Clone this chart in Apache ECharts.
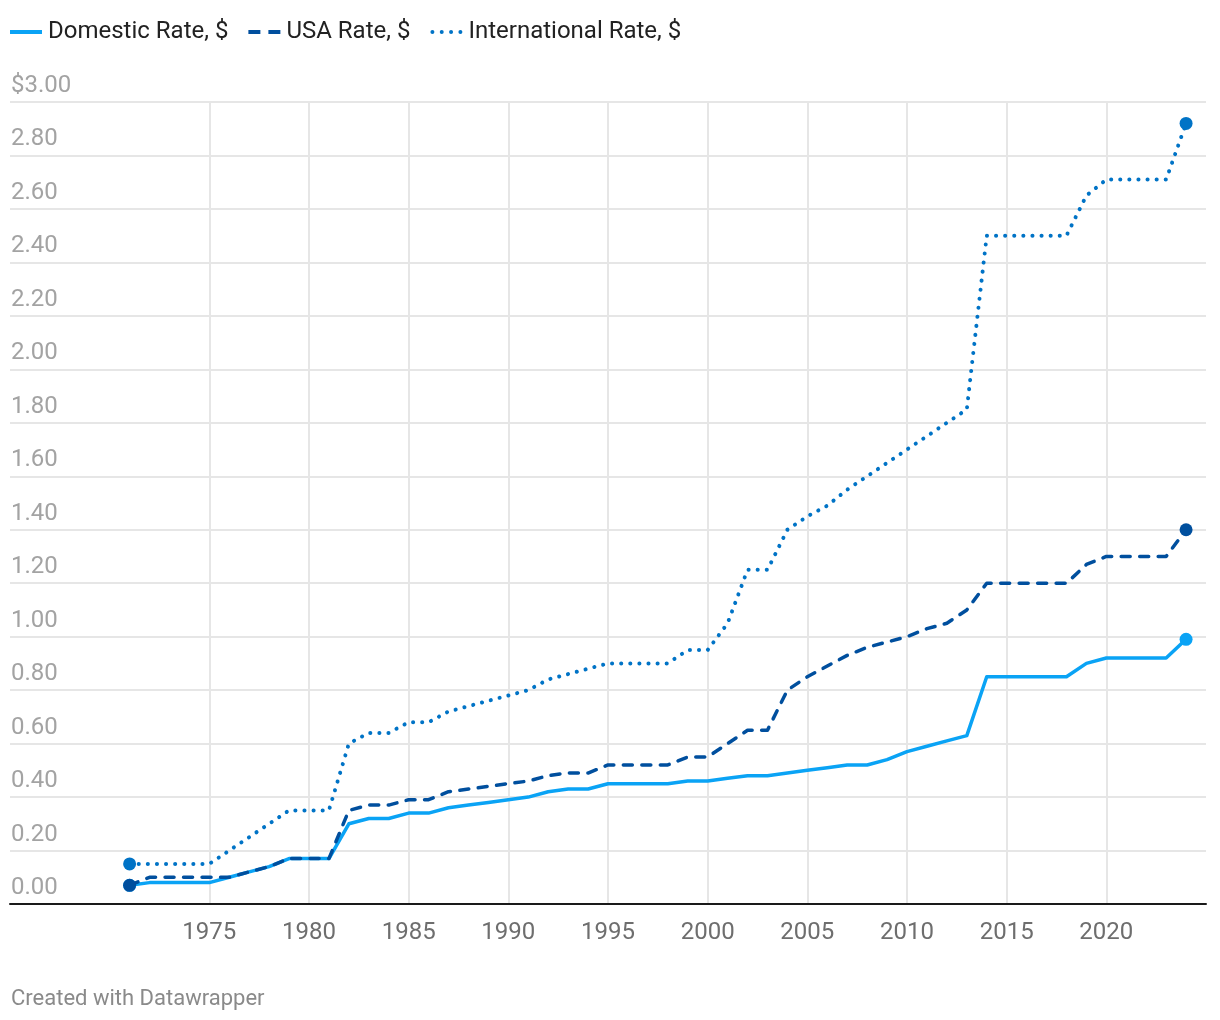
<!DOCTYPE html>
<html>
<head>
<meta charset="utf-8">
<script src="https://cdn.jsdelivr.net/npm/echarts@6/dist/echarts.min.js"></script>
<style>
  html, body { margin: 0; padding: 0; background: #ffffff; }
  #chart { width: 1220px; height: 1020px; }
</style>
</head>
<body>
<div id="chart"></div>
<script>
const years = [1971,1972,1973,1974,1975,1976,1977,1978,1979,1980,1981,1982,1983,1984,1985,1986,1987,1988,1989,1990,1991,1992,1993,1994,1995,1996,1997,1998,1999,2000,2001,2002,2003,2004,2005,2006,2007,2008,2009,2010,2011,2012,2013,2014,2015,2016,2017,2018,2019,2020,2021,2022,2023,2024];
const domesticRate = [0.07,0.08,0.08,0.08,0.08,0.10,0.12,0.14,0.17,0.17,0.17,0.30,0.32,0.32,0.34,0.34,0.36,0.37,0.38,0.39,0.40,0.42,0.43,0.43,0.45,0.45,0.45,0.45,0.46,0.46,0.47,0.48,0.48,0.49,0.50,0.51,0.52,0.52,0.54,0.57,0.59,0.61,0.63,0.85,0.85,0.85,0.85,0.85,0.90,0.92,0.92,0.92,0.92,0.99];
const usaRate = [0.07,0.10,0.10,0.10,0.10,0.10,0.12,0.14,0.17,0.17,0.17,0.35,0.37,0.37,0.39,0.39,0.42,0.43,0.44,0.45,0.46,0.48,0.49,0.49,0.52,0.52,0.52,0.52,0.55,0.55,0.60,0.65,0.65,0.80,0.85,0.89,0.93,0.96,0.98,1.00,1.03,1.05,1.10,1.20,1.20,1.20,1.20,1.20,1.27,1.30,1.30,1.30,1.30,1.40];
const internationalRate = [0.15,0.15,0.15,0.15,0.15,0.20,0.25,0.30,0.35,0.35,0.35,0.60,0.64,0.64,0.68,0.68,0.72,0.74,0.76,0.78,0.80,0.84,0.86,0.88,0.90,0.90,0.90,0.90,0.95,0.95,1.05,1.25,1.25,1.40,1.45,1.49,1.55,1.60,1.65,1.70,1.75,1.80,1.85,2.50,2.50,2.50,2.50,2.50,2.65,2.71,2.71,2.71,2.71,2.92];
const seriesNames = ['Domestic Rate, $', 'USA Rate, $', 'International Rate, $'];
const xTickYears = [1975,1980,1985,1990,1995,2000,2005,2010,2015,2020];
const footerText = 'Created with Datawrapper';

const FONT = 'Roboto, "Noto Sans", sans-serif';
const colDomestic = '#0aa3f5';
const colUSA = '#004f9e';
const colIntl = '#0073c6';

function pairs(vals) { return years.map((y, i) => [y, vals[i]]); }
function endSymbol(value, params) {
  return (params.dataIndex === 0 || params.dataIndex === years.length - 1) ? 'circle' : 'none';
}

const T = 'rgba(0,0,0,0)';
const G = '#e6e6e6';

const chart = echarts.init(document.getElementById('chart'), null, { renderer: 'canvas' });
chart.setOption({
  animation: false,
  backgroundColor: '#ffffff',
  textStyle: { fontFamily: FONT },
  grid: { left: 10, right: 14, top: 102, bottom: 116, containLabel: false },
  legend: {
    left: 10, top: 20, padding: 0,
    itemWidth: 32, itemHeight: 4, itemGap: 20,
    textStyle: { fontFamily: FONT, fontSize: 24, color: '#222222', padding: [0, 0, 0, 1] },
    itemStyle: { borderWidth: 0 },
    lineStyle: { width: 0 },
    data: [
      { name: seriesNames[0], icon: 'path://M0,0H32V4H0Z' },
      { name: seriesNames[1], icon: 'path://M0,0H12V4H0Z M20,0H32V4H20Z' },
      { name: seriesNames[2], icon: 'path://M0,2A2,2 0 1,0 4,2A2,2 0 1,0 0,2Z M9.33,2A2,2 0 1,0 13.33,2A2,2 0 1,0 9.33,2Z M18.67,2A2,2 0 1,0 22.67,2A2,2 0 1,0 18.67,2Z M28,2A2,2 0 1,0 32,2A2,2 0 1,0 28,2Z' }
    ]
  },
  xAxis: {
    type: 'value', min: 1965, max: 2025, interval: 5,
    axisLine: { show: true, onZero: false, lineStyle: { color: '#1a1a1a', width: 2 } },
    axisTick: { show: false },
    axisLabel: {
      fontFamily: FONT, fontSize: 24, color: '#6e6e6e', margin: 17,
      formatter: v => (xTickYears.indexOf(v) >= 0 ? String(v) : '')
    },
    splitLine: { show: true, showMinLine: false, showMaxLine: false,
      lineStyle: { color: [T, G, G, G, G, G, G, G, G, G, G], width: 2 } }
  },
  yAxis: {
    type: 'value', min: 0, max: 3, interval: 0.2,
    axisLine: { show: false }, axisTick: { show: false },
    axisLabel: {
      inside: true, margin: 1, fontFamily: FONT, fontSize: 24, color: '#a3a3a3',
      align: 'left', verticalAlign: 'bottom', lineHeight: 24, padding: [0, 0, 4, 0],
      formatter: v => (Math.abs(v - 3) < 1e-9 ? '$3.00' : v.toFixed(2))
    },
    splitLine: { show: true, lineStyle: { color: G, width: 2 } }
  },
  series: [
    {
      name: seriesNames[0], type: 'line', data: pairs(domesticRate),
      symbol: endSymbol, symbolSize: 13, showAllSymbol: true,
      lineStyle: { color: colDomestic, width: 3.5, cap: 'round', join: 'round' },
      itemStyle: { color: colDomestic }, z: 3
    },
    {
      name: seriesNames[1], type: 'line', data: pairs(usaRate),
      symbol: endSymbol, symbolSize: 13, showAllSymbol: true,
      lineStyle: { color: colUSA, width: 3.5, type: [9, 9.5], cap: 'round', join: 'round' },
      itemStyle: { color: colUSA }, z: 4
    },
    {
      name: seriesNames[2], type: 'line', data: pairs(internationalRate),
      symbol: endSymbol, symbolSize: 13, showAllSymbol: true,
      lineStyle: { color: colIntl, width: 4, type: [0.1, 9], cap: 'round', join: 'round' },
      itemStyle: { color: colIntl }, z: 5
    }
  ],
  graphic: [
    { type: 'text', left: 11, top: 988,
      style: { text: footerText, fontFamily: FONT, fontSize: 22, fill: '#8a8a8a' } }
  ]
});
</script>
</body>
</html>
